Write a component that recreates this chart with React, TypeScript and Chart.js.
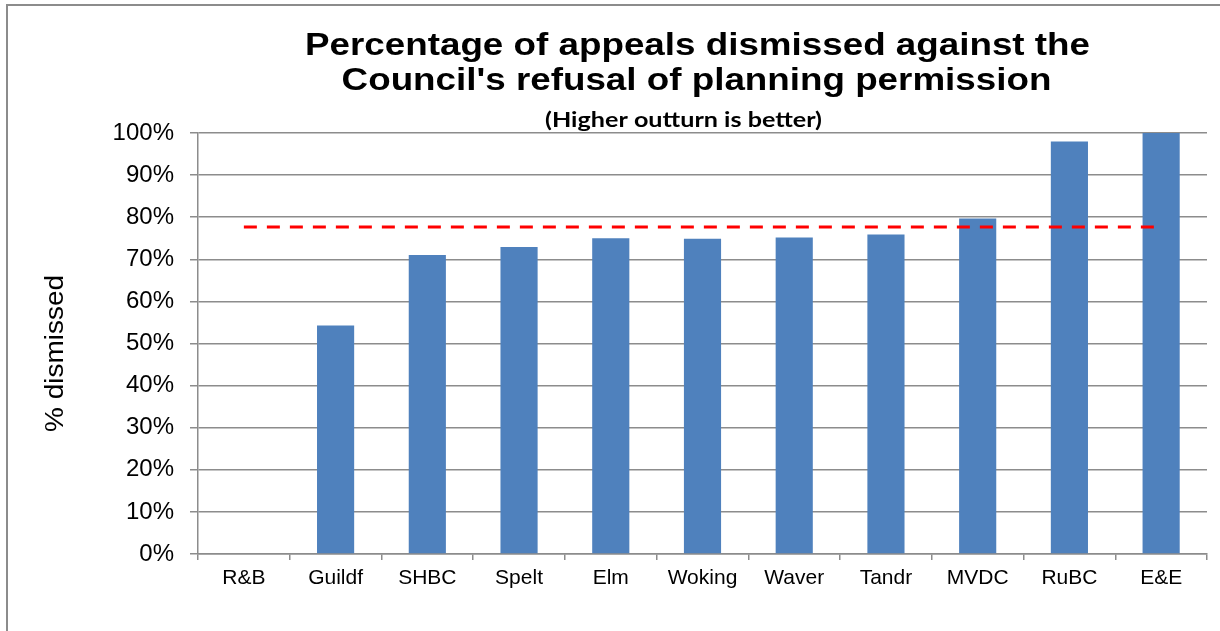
import React, { useEffect, useRef } from "react";
import { Chart, registerables } from "chart.js";

Chart.register(...registerables);

const categories = ["R&B", "Guildf", "SHBC", "Spelt", "Elm", "Woking", "Waver", "Tandr", "MVDC", "RuBC", "E&E"];
const dismissedPct = [0, 54.3, 71.0, 72.9, 75.0, 74.9, 75.2, 75.9, 79.7, 98.0, 100];
const averagePct = [77.7, 77.7, 77.7, 77.7, 77.7, 77.7, 77.7, 77.7, 77.7, 77.7, 77.7];
const yTickValues = [0, 10, 20, 30, 40, 50, 60, 70, 80, 90, 100];
const titleLines = ["Percentage of appeals dismissed against the", "Council's refusal of planning permission"];
const subtitleText = "(Higher outturn is better)";
const yAxisTitle = "% dismissed";

const GRID = "#8c8c8c";

function stretchedText(ctx: any, text: string, x: number, y: number, sx: number) {
  ctx.save();
  ctx.translate(x, y);
  ctx.scale(sx, 1);
  ctx.fillText(text, 0, 0);
  ctx.restore();
}

const decorPlugin = {
  id: "decor",
  beforeDraw(chart: any) {
    const ctx = chart.ctx;
    ctx.save();
    ctx.fillStyle = "#ffffff";
    ctx.fillRect(0, 0, chart.width, chart.height);
    ctx.strokeStyle = "#8c8c8c";
    ctx.lineWidth = 2;
    ctx.beginPath();
    ctx.moveTo(7, chart.height);
    ctx.lineTo(7, 5);
    ctx.lineTo(chart.width, 5);
    ctx.stroke();
    ctx.restore();
  },
  afterDraw(chart: any) {
    const ctx = chart.ctx;
    const area = chart.chartArea;
    const cx = (area.left + area.right) / 2;
    ctx.save();
    ctx.fillStyle = "#000000";
    ctx.textAlign = "center";
    ctx.textBaseline = "alphabetic";
    ctx.font = "bold 31px 'Liberation Sans', Arial, sans-serif";
    const w1 = ctx.measureText(titleLines[0]).width;
    const titleScale = 785 / w1;
    stretchedText(ctx, titleLines[0], cx - 5, area.top - 78, titleScale);
    stretchedText(ctx, titleLines[1], cx - 6, area.top - 43, titleScale);
    ctx.font = "bold 21px Lato, 'Open Sans', sans-serif";
    const ws = ctx.measureText(subtitleText).width;
    stretchedText(ctx, subtitleText, cx - 19, area.top - 6, 277 / ws);
    ctx.translate(56, (area.top + area.bottom) / 2 + 10);
    ctx.rotate(-Math.PI / 2);
    ctx.textBaseline = "middle";
    ctx.font = "26px 'Liberation Sans', Arial, sans-serif";
    const wy = ctx.measureText(yAxisTitle).width;
    stretchedText(ctx, yAxisTitle, 0, 0, 157 / wy);
    ctx.restore();
  },
};

export default function App() {
  const canvasRef = useRef<HTMLCanvasElement | null>(null);

  useEffect(() => {
    document.body.style.margin = "0";
    const canvas = canvasRef.current;
    if (!canvas) return;
    const chart = new Chart(canvas, {
      type: "bar",
      data: {
        labels: categories,
        datasets: [
          {
            type: "line",
            label: "Average",
            data: averagePct,
            borderColor: "#ff0000",
            borderWidth: 3,
            borderDash: [13, 10],
            pointRadius: 0,
            fill: false,
            order: 0,
          } as any,
          {
            type: "bar",
            label: "% dismissed",
            data: dismissedPct,
            backgroundColor: "#4f81bd",
            borderWidth: 0,
            barPercentage: 0.405,
            categoryPercentage: 1,
            order: 1,
          },
        ],
      },
      options: {
        responsive: true,
        maintainAspectRatio: false,
        animation: false,
        layout: { padding: { top: 133, right: 13, left: 0, bottom: 0 } },
        plugins: {
          legend: { display: false },
          tooltip: { enabled: false },
          title: { display: false },
        },
        scales: {
          x: {
            offset: true,
            afterFit: (scale: any) => {
              scale.height = 77;
            },
            grid: {
              offset: true,
              drawOnChartArea: false,
              drawTicks: true,
              tickLength: 6,
              color: GRID,
              lineWidth: 1.5,
            },
            border: { display: true, color: GRID, width: 1.5 },
            ticks: {
              color: "#000000",
              padding: 6,
              maxRotation: 0,
              autoSkip: false,
              font: { family: "'Liberation Sans', Arial, sans-serif", size: 21 },
            },
          },
          y: {
            min: 0,
            max: 100,
            afterFit: (scale: any) => {
              scale.width = 198;
            },
            afterBuildTicks: (scale: any) => {
              scale.ticks = yTickValues.map((v) => ({ value: v }));
            },
            grid: {
              color: GRID,
              lineWidth: 1.5,
              drawTicks: true,
              tickLength: 8,
            },
            border: { display: true, color: GRID, width: 1.5 },
            ticks: {
              color: "#000000",
              padding: 16,
              callback: (v: any) => v + "%",
              font: { family: "'Liberation Sans', Arial, sans-serif", size: 24 },
            },
          },
        },
      },
      plugins: [decorPlugin],
    });
    return () => chart.destroy();
  }, []);

  return (
    <div style={{ position: "relative", width: "1220px", height: "631px" }}>
      <canvas ref={canvasRef} />
    </div>
  );
}
